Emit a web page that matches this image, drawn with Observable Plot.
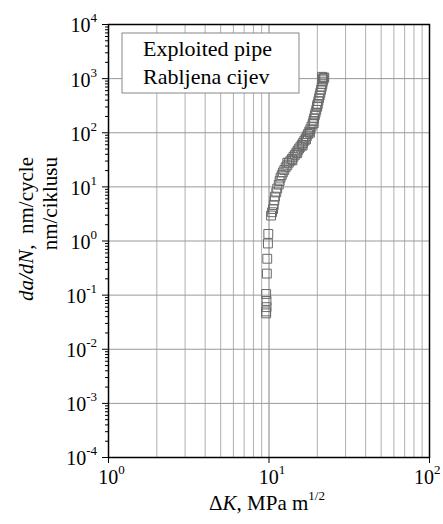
<!DOCTYPE html>
<html><head><meta charset="utf-8">
<script src="https://cdn.jsdelivr.net/npm/d3@7"></script>
<script src="https://cdn.jsdelivr.net/npm/@observablehq/plot@0.6"></script>
<style>body{margin:0;background:#fff} svg{display:block} svg text{font-family:'Liberation Serif','Times New Roman',serif !important}</style>
</head><body><div id="chart"></div>
<script>
// Data: ΔK (MPa m^1/2) and da/dN (nm/cycle)
const deltaK = [9.6, 9.6, 9.65, 9.65, 9.6, 9.7, 9.75, 9.85, 9.9,
  10.3, 10.45, 10.6, 10.7, 10.8, 10.9, 11.1, 11.25, 11.5, 11.65, 11.8, 12.0, 12.2, 12.45, 12.7,
  13.0, 13.3, 13.6, 13.9, 14.2, 14.5, 14.8, 15.1, 15.4, 15.7, 16.0, 16.3, 16.6, 16.9, 17.2, 17.5,
  17.8, 18.1, 18.4, 18.7, 18.9, 19.1, 19.3, 19.5, 19.7, 19.9, 20.1, 20.3, 20.5, 20.7, 20.9, 21.1,
  21.3, 21.5, 21.6, 21.8, 21.9, 21.6, 22.1, 21.4,
  13.0, 14.0, 15.0, 16.2, 17.0, 18.0, 19.0, 20.0];
const dadN = [0.046, 0.05, 0.06, 0.078, 0.105, 0.25, 0.47, 0.9, 1.35,
  2.95, 3.4, 3.9, 4.6, 5.6, 6.6, 7.9, 9.3, 11, 12.8, 14.8, 16.5, 18.5, 20.5, 23,
  25, 28, 30.5, 33, 36, 39, 43, 47, 51, 55, 60, 65, 71, 78, 86, 95,
  105, 116, 130, 146, 165, 185, 210, 235, 265, 300, 340, 385, 435, 490, 550, 620,
  700, 790, 880, 960, 1030, 1000, 1050, 1080,
  28, 31, 42, 58, 75, 100, 150, 320];

const xDecades = [1, 10, 100];
const xExponents = ["0", "1", "2"];
const xMinor = [2, 3, 4, 5, 6, 7, 8, 9, 20, 30, 40, 50, 60, 70, 80, 90];
const yDecades = [1e-4, 1e-3, 1e-2, 1e-1, 1, 10, 100, 1000, 10000];
const yExponents = ["-4", "-3", "-2", "-1", "0", "1", "2", "3", "4"];
const yMinor = yDecades.slice(0, -1).flatMap(d => [2, 3, 4, 5, 6, 7, 8, 9].map(m => m * d));
const legendLines = ["Exploited pipe", "Rabljena cijev"];

const points = deltaK.map((k, i) => ({k, v: dadN[i]}));
const serif = "Liberation Serif";

const plot = Plot.plot({
  width: 443, height: 524,
  marginLeft: 108, marginRight: 14, marginTop: 24, marginBottom: 67,
  style: {fontFamily: serif, background: "white", color: "black"},
  x: {type: "log", domain: [1, 100], axis: null},
  y: {type: "log", domain: [1e-4, 1e4], axis: null},
  marks: [
    Plot.ruleX(xMinor, {stroke: "#b0b0b0", strokeWidth: 1}),
    Plot.ruleX(xDecades, {stroke: "#808080", strokeWidth: 1}),
    Plot.ruleY(yDecades, {stroke: "#999", strokeWidth: 1}),
    Plot.axisY({ticks: yMinor, tickSize: 3, tickFormat: () => "", label: null, stroke: "black"}),
    Plot.axisY({ticks: yDecades, tickSize: 6, tickFormat: () => "", label: null, stroke: "black"}),
    Plot.axisX({ticks: xDecades, tickSize: 6, tickFormat: () => "", label: null, stroke: "black"}),
    Plot.dot(points, {x: "k", y: "v", symbol: "square", r: 5, stroke: "#6a6a6a", fill: "none", strokeWidth: 1}),
    Plot.frame({stroke: "black", strokeWidth: 1.5}),
    Plot.text(yDecades, {x: 1, y: d => d, text: (d, i) => "10^" + yExponents[i], textAnchor: "end", dx: -11.5, dy: 1.5, fontSize: 20, fontFamily: serif, fill: "black"}),
    Plot.text(xDecades.slice(0, -1), {x: d => d, y: 1e-4, text: (d, i) => "10^" + xExponents[i], textAnchor: "middle", dx: 3, dy: 20, fontSize: 20, fontFamily: serif, fill: "black"}),
    Plot.text(xDecades.slice(-1), {x: d => d, y: 1e-4, text: () => "10^" + xExponents[xExponents.length - 1], textAnchor: "end", dx: 11, dy: 20, fontSize: 20, fontFamily: serif, fill: "black"})
  ]
});

const svg = d3.select(plot);
// superscript exponents
svg.selectAll("text").each(function() {
  const t = d3.select(this);
  const s = this.textContent;
  const m = /^10\^(.+)$/.exec(s);
  if (!m) return;
  t.text(null);
  t.append("tspan").text("10");
  t.append("tspan").attr("dy", -10).attr("font-size", 13).text(m[1]);
});

// legend box
const lg = svg.append("g").attr("font-size", 22).attr("text-anchor", "start");
lg.append("rect").attr("x", 122).attr("y", 33).attr("width", 177).attr("height", 60)
  .attr("fill", "white").attr("stroke", "#888").attr("stroke-width", 1);
legendLines.forEach((s, i) => lg.append("text").attr("x", 143).attr("y", 56 + i * 28)
  .attr("text-anchor", "start").attr("fill", "black").text(s));

// x axis title
const xt = svg.append("text").attr("x", 267).attr("y", 510).attr("text-anchor", "middle")
  .attr("font-size", 21).attr("fill", "black");
xt.append("tspan").text("Δ");
xt.append("tspan").attr("font-style", "italic").text("K");
xt.append("tspan").text(", MPa m");
xt.append("tspan").attr("dy", -10).attr("font-size", 13).text("1/2");

// y axis title (two lines)
const yt1 = svg.append("text").attr("transform", "translate(33,157) rotate(-90)").attr("text-anchor", "end")
  .attr("font-size", 21).attr("fill", "black");
yt1.append("tspan").attr("font-style", "italic").text("da/dN");
yt1.append("tspan").style("white-space", "pre").text(",  nm/cycle");
svg.append("text").attr("transform", "translate(57,157) rotate(-90)").attr("text-anchor", "end")
  .attr("font-size", 21).attr("fill", "black").text("nm/ciklusu");

document.getElementById("chart").appendChild(plot);
</script>
</body></html>
